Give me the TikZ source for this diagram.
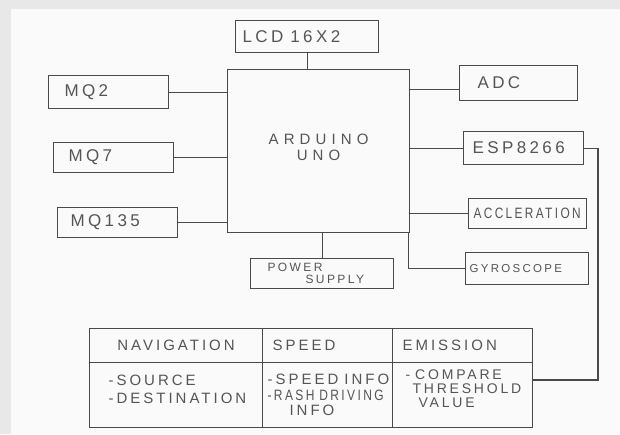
\documentclass[tikz,border=0pt]{standalone}
\usepackage{fontspec}
\usepackage{graphicx}
\newfontfamily\hand[LetterSpace=20]{Liberation Sans}
\newfontfamily\handwide[LetterSpace=34]{Liberation Sans}
\definecolor{ink}{HTML}{4A4A4A}
\definecolor{txt}{HTML}{555555}
\definecolor{bggray}{HTML}{E8E8E8}
\definecolor{paper}{HTML}{FAFAFA}
\tikzset{
  box/.style={draw=ink, line width=1.1pt, anchor=north west, inner ysep=0pt, text=txt, align=left},
  cbox/.style={draw=ink, line width=1.1pt, anchor=north west, inner sep=0pt, text=txt, align=center},
  conn/.style={draw=ink, line width=1.1pt},
  big/.style={font=\hand\fontsize{17}{17}\selectfont},
  tab/.style={font=\hand\fontsize{15}{17}\selectfont}
}
\begin{document}
\begin{tikzpicture}[x=1pt,y=-1pt]
\useasboundingbox (0,0) rectangle (620,434);
\fill[bggray] (0,0) rectangle (620,434);
\fill[paper] (11,9) rectangle (620,434);

% boxes
\node[box, big, minimum height=32pt, inner xsep=7pt, text width=129pt] (lcd) at (235,20) {LCD\hspace{7pt}16X2};
\node[cbox, font=\handwide\fontsize{15}{16}\selectfont, minimum width=182pt, minimum height=163pt, text depth=8pt] (ard) at (227,69) {ARDUINO\\UNO};
\node[box, big, minimum height=33pt, inner xsep=16pt, text width=88pt] (mq2) at (48,75) {MQ2};
\node[box, big, minimum height=30pt, inner xsep=15pt, text width=90pt] (mq7) at (53,142) {MQ7};
\node[box, big, minimum height=30pt, inner xsep=13pt, text width=94pt] (mq135) at (57,207) {MQ135};
\node[box, big, minimum height=35pt, inner xsep=18pt, text width=82pt] (adc) at (459,65) {ADC};
\node[box, big, minimum height=33pt, inner xsep=9pt, text width=102pt] (esp) at (463,131) {ESP8266};
\node[box, font=\hand\fontsize{15}{15}\selectfont, minimum height=30pt, inner xsep=5pt, text width=108pt] (acc) at (468,198) {\scalebox{0.79}[1]{ACCLERATION}};
\node[box, font=\hand\fontsize{11.5}{11.5}\selectfont, minimum height=32pt, inner xsep=4pt, text width=115pt] (gyro) at (465,252) {GYROSCOPE};
\node[box, font=\hand\fontsize{12}{11.5}\selectfont, minimum height=30pt, inner xsep=17pt, text width=109pt] (power) at (250,258) {POWER\\\hspace*{38pt}SUPPLY};

% table
\node[cbox, tab, minimum width=173pt, minimum height=34pt] (navh) at (89,328) {NAVIGATION};
\node[box, tab, minimum height=34pt, inner xsep=10pt, text width=110pt] (spdh) at (262,328) {SPEED};
\node[box, tab, minimum height=34pt, inner xsep=10pt, text width=120pt] (emih) at (392,328) {EMISSION};
\node[box, font=\hand\fontsize{15}{18}\selectfont, minimum height=65pt, inner xsep=19pt, text width=135pt] (navb) at (89,362) {-SOURCE\\-DESTINATION\\[-6pt]\mbox{}};
\node[box, font=\hand\fontsize{15}{15.5}\selectfont, minimum height=65pt, inner xsep=5pt, text width=120pt] (spdb) at (262,362) {-SPEED\hspace{6pt}INFO\\\scalebox{0.8}[1]{-RASH\hspace{6pt}DRIVING}\\\hspace*{22pt}INFO};
\node[box, font=\hand\fontsize{14}{14}\selectfont, minimum height=65pt, inner xsep=13pt, text width=114pt] (emib) at (392,362) {-\hspace{5pt}COMPARE\\\hspace*{7pt}THRESHOLD\\\hspace*{13pt}VALUE\\[-2pt]\mbox{}};

% connectors
\draw[conn] (mq2.east) -- (mq2.east -| ard.west);
\draw[conn] (mq7.east) -- (mq7.east -| ard.west);
\draw[conn] (mq135.east) -- (mq135.east -| ard.west);
\draw[conn] (lcd.south) -- (lcd.south |- ard.north);
\draw[conn] ([yshift=-6.5pt]adc.west) -- ([yshift=-6.5pt]adc.west -| ard.east);
\draw[conn] (esp.west) -- (esp.west -| ard.east);
\draw[conn] (acc.west) -- (acc.west -| ard.east);
\draw[conn] ([xshift=-2pt]ard.south east) |- (gyro.west);
\draw[conn] (power.north) -- (power.north |- ard.south);
\coordinate (bus) at (598,380);
\draw[conn] (esp.east) -| (bus) -- (bus -| emib.east);
\end{tikzpicture}
\end{document}
